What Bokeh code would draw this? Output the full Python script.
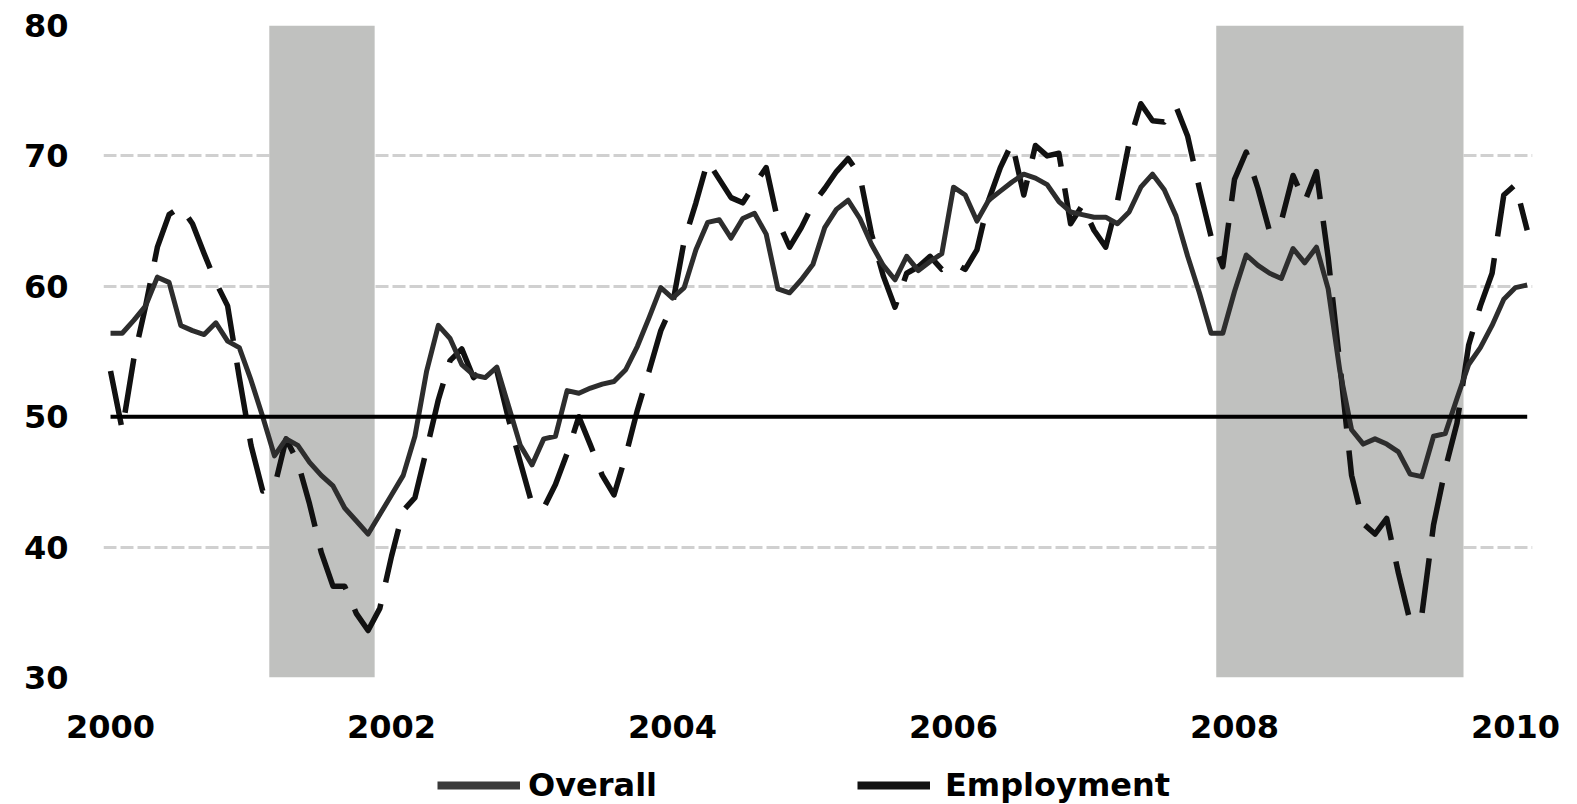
from bokeh.plotting import figure
from bokeh.models import Range1d, FixedTicker, Legend, LegendItem, ColumnDataSource
from bokeh.layouts import column
from bokeh.embed import file_html
from bokeh.resources import INLINE

# ---- data (monthly, Jan 2000 .. Feb 2010) ----
start_year = 2000
overall = [56.4, 56.4, 57.4, 58.5, 60.7, 60.3, 57.0, 56.6, 56.3, 57.2, 55.8, 55.3,
           52.8, 50.0, 47.0, 48.3, 47.8, 46.5, 45.5, 44.7, 43.0, 42.0, 41.0, 42.5,
           44.0, 45.5, 48.5, 53.5, 57.0, 56.0, 54.0, 53.2, 53.0, 53.8, 50.8, 47.8,
           46.3, 48.3, 48.5, 52.0, 51.8, 52.2, 52.5, 52.7, 53.6, 55.4, 57.6, 59.9,
           59.1, 59.9, 62.8, 64.9, 65.1, 63.7, 65.2, 65.6, 64.0, 59.8, 59.5, 60.5,
           61.7, 64.5, 65.9, 66.6, 65.2, 63.2, 61.6, 60.5, 62.3, 61.2, 61.9, 62.5,
           67.6, 67.0, 65.0, 66.6, 67.3, 68.0, 68.6, 68.3, 67.8, 66.5, 65.7, 65.5,
           65.3, 65.3, 64.8, 65.7, 67.6, 68.6, 67.4, 65.4, 62.3, 59.5, 56.4, 56.4,
           59.6, 62.4, 61.6, 61.0, 60.6, 62.9, 61.8, 63.0, 59.8, 53.5, 49.0, 47.9,
           48.3, 47.9, 47.3, 45.6, 45.4, 48.5, 48.7, 51.4, 54.0, 55.3, 57.0, 59.0,
           59.9, 60.1]
employment = [53.5, 49.0, 54.5, 58.5, 63.0, 65.5, 66.1, 64.8, 62.5, 60.3, 58.5, 53.0,
              47.8, 44.3, 44.6, 48.3, 46.5, 43.3, 39.6, 37.0, 37.0, 34.9, 33.6, 35.3,
              39.3, 42.8, 43.8, 47.5, 51.3, 54.3, 55.2, 53.0, 53.8, 53.5, 49.8, 46.5,
              43.3, 43.0, 44.8, 47.2, 50.0, 47.8, 45.5, 44.0, 47.0, 50.5, 53.5, 56.6,
              58.6, 63.5, 66.4, 69.6, 68.2, 66.8, 66.4, 67.8, 69.1, 65.0, 63.0, 64.5,
              66.3, 67.5, 68.8, 69.8, 68.5, 64.0, 60.8, 58.4, 61.0, 61.5, 62.3, 61.3,
              61.8, 61.3, 62.8, 66.6, 69.1, 71.0, 67.0, 70.8, 70.0, 70.2, 64.8, 66.2,
              64.3, 63.0, 66.5, 71.0, 74.0, 72.7, 72.6, 73.8, 71.5, 67.5, 63.8, 61.5,
              68.2, 70.3, 67.5, 64.2, 65.0, 68.5, 66.5, 68.8, 62.2, 54.0, 45.5, 41.8,
              41.0, 42.2, 38.0, 34.3, 34.8, 41.7, 46.0, 49.5, 55.5, 58.5, 61.0, 67.0,
              67.8, 64.3]
recession_start = [2001.13, 2007.87]
recession_end = [2001.88, 2009.63]
reference_level = 50
x_ticks = [2000, 2002, 2004, 2006, 2008, 2010]
y_ticks = [30, 40, 50, 60, 70, 80]
series_names = ["Overall", "Employment"]

months = [start_year + i / 12 for i in range(len(overall))]

FONT = "DejaVu Sans"
FS = "32px"

p = figure(width=1577, height=750, output_backend="svg", toolbar_location=None,
           x_range=Range1d(1999.950, 2010.121), y_range=Range1d(30, 80),
           min_border_left=103, min_border_right=45, min_border_top=25,
           min_border_bottom=73)
p.outline_line_color = None
p.background_fill_color = "white"
p.border_fill_color = "white"

# grid
p.xgrid.grid_line_color = None
p.ygrid.ticker = FixedTicker(ticks=[30, 40, 60, 70, 80])
p.ygrid.grid_line_color = "#d0d0d0"
p.ygrid.grid_line_width = 3
p.ygrid.grid_line_dash = "13 4"

# axes
p.xaxis.ticker = FixedTicker(ticks=x_ticks)
p.xaxis.major_label_overrides = {t: str(t) for t in x_ticks}
p.yaxis.ticker = FixedTicker(ticks=y_ticks)
p.yaxis.major_label_overrides = {t: str(t) for t in y_ticks}
for ax in (p.xaxis[0], p.yaxis[0]):
    ax.axis_line_color = None
    ax.major_tick_line_color = None
    ax.minor_tick_line_color = None
    ax.major_tick_out = 0
    ax.major_tick_in = 0
    ax.minor_tick_out = 0
    ax.minor_tick_in = 0
    ax.major_label_text_font = FONT
    ax.major_label_text_font_style = "bold"
    ax.major_label_text_font_size = FS
    ax.major_label_text_color = "black"
p.xaxis.major_label_standoff = 37
p.yaxis.major_label_standoff = 35

# recession shading
p.quad(left=recession_start, right=recession_end, bottom=y_ticks[0], top=y_ticks[-1],
       fill_color="#c0c1bf", line_color=None)

src = ColumnDataSource(dict(x=months, overall=overall, employment=employment,
                            ref=[reference_level] * len(months)))

p.line("x", "employment", source=src, line_color="#111111", line_width=5.5,
       line_dash="55 22", line_join="round")
p.line("x", "overall", source=src, line_color="#2d2d2d", line_width=5,
       line_join="round")
p.line("x", "ref", source=src, line_color="black", line_width=4)

# ---- legend strip (its frame is aligned with the main frame) ----
pl = figure(width=1577, height=54, output_backend="svg", toolbar_location=None,
            x_range=Range1d(0, 1), y_range=Range1d(0, 1),
            x_axis_location=None, y_axis_location=None,
            min_border_left=0, min_border_right=0, min_border_top=0,
            min_border_bottom=0)
pl.outline_line_color = None
pl.grid.grid_line_color = None
pl.border_fill_color = "white"

nan = float("nan")
l1 = pl.line([nan], [nan], line_color="#3a3a3a", line_width=8)
l2 = pl.line([nan], [nan], line_color="#111111", line_width=8)

def make_legend(label, r, loc, gw, standoff):
    return Legend(items=[LegendItem(label=label, renderers=[r])], location=loc,
                  orientation="horizontal", glyph_width=gw, glyph_height=26,
                  label_height=26, label_standoff=standoff, padding=0, margin=0,
                  border_line_color=None, background_fill_alpha=0,
                  label_text_font=FONT, label_text_font_style="bold",
                  label_text_font_size=FS, label_text_color="black")

pl.add_layout(make_legend(series_names[0], l1, (334, 0), 83, 8))
pl.add_layout(make_legend(series_names[1], l2, (754, 0), 73, 15))

layout = column(p, pl, spacing=0)
open("out.html", "w").write(file_html(layout, INLINE))
